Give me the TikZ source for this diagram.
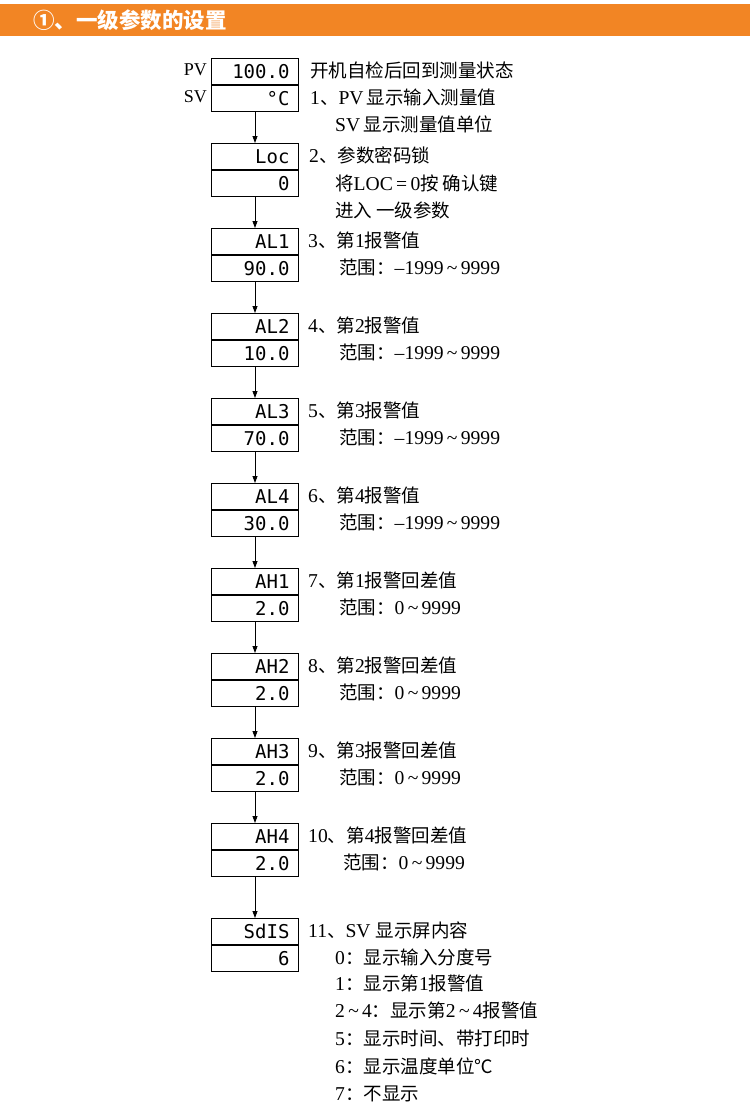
\documentclass[tikz,border=0pt]{standalone}
\usepackage{fontspec}
\setmainfont{Liberation Serif}[Scale=1.06]
\newfontfamily\cjk{Noto Sans CJK SC}
\newfontfamily\segfont{DejaVu Sans Mono}
\usetikzlibrary{arrows.meta}
\definecolor{headorange}{RGB}{242,133,36}
\newcommand\zh[1]{{\cjk #1}}
\newcommand\tildesep{\,\textasciitilde\,}
\newcommand\dispbox[4]{%
  \node[segrow, anchor=north west] (#1u) at (211,#2) {#3};
  \node[segrow, anchor=north] (#1l) at (#1u.south) {#4};
}
\begin{document}
\begin{tikzpicture}[x=1pt,y=-1pt,
  segrow/.style={draw, line width=1pt, minimum width=87pt, minimum height=26pt,
    text width=69pt, align=right, inner xsep=9pt, inner ysep=0pt,
    text height=14pt, text depth=1pt, font=\segfont\fontsize{19}{19}\selectfont},
  flow/.style={line width=0.8pt, -{Triangle[length=7pt,width=5pt]}},
  desc/.style={anchor=west, inner sep=0pt, font=\fontsize{18.5}{19}\selectfont},
  side/.style={anchor=east, inner sep=0pt, font=\fontsize{17}{17}\selectfont}]
\useasboundingbox (0,0) rectangle (750,1114);
\fill[headorange] (0,4) rectangle (750,36);
\node[anchor=west, inner sep=0pt, text=white, font=\cjk\bfseries\fontsize{21.5}{21.5}\selectfont] (title) at (33,20) {①、一级参数的设置};

\dispbox{b1}{58}{100.0}{°C}
\dispbox{b2}{143}{Loc}{0}
\dispbox{b3}{228}{AL1}{90.0}
\dispbox{b4}{313}{AL2}{10.0}
\dispbox{b5}{398}{AL3}{70.0}
\dispbox{b6}{483}{AL4}{30.0}
\dispbox{b7}{568}{AH1}{2.0}
\dispbox{b8}{653}{AH2}{2.0}
\dispbox{b9}{738}{AH3}{2.0}
\dispbox{b10}{823}{AH4}{2.0}
\dispbox{b11}{918}{SdIS}{6}

\draw[flow] (b1l.south) -- (b2u.north);
\draw[flow] (b2l.south) -- (b3u.north);
\draw[flow] (b3l.south) -- (b4u.north);
\draw[flow] (b4l.south) -- (b5u.north);
\draw[flow] (b5l.south) -- (b6u.north);
\draw[flow] (b6l.south) -- (b7u.north);
\draw[flow] (b7l.south) -- (b8u.north);
\draw[flow] (b8l.south) -- (b9u.north);
\draw[flow] (b9l.south) -- (b10u.north);
\draw[flow] (b10l.south) -- (b11u.north);

\node[side] (pv) at (207,70) {PV};
\node[side] (sv) at (207,97) {SV};

\node[desc] (t1a) at (310,70) {\zh{开机自检后回到测量状态}};
\node[desc] (t1b) at (310,97) {1\zh{、}PV\,\zh{显示输入测量值}};
\node[desc] (t1c) at (335,124) {SV\,\zh{显示测量值单位}};

\node[desc] (t2a) at (309,155) {2\zh{、参数密码锁}};
\node[desc] (t2b) at (335,183) {\zh{将}LOC\,=\,0\zh{按 确认键}};
\node[desc] (t2c) at (335,210) {\zh{进入 一级参数}};

\node[desc] (t3a) at (308,240) {3\zh{、第}1\zh{报警值}};
\node[desc] (t3b) at (339,267) {\zh{范围：}–1999\tildesep 9999};
\node[desc] (t4a) at (308,325) {4\zh{、第}2\zh{报警值}};
\node[desc] (t4b) at (339,352) {\zh{范围：}–1999\tildesep 9999};
\node[desc] (t5a) at (308,410) {5\zh{、第}3\zh{报警值}};
\node[desc] (t5b) at (339,437) {\zh{范围：}–1999\tildesep 9999};
\node[desc] (t6a) at (308,495) {6\zh{、第}4\zh{报警值}};
\node[desc] (t6b) at (339,522) {\zh{范围：}–1999\tildesep 9999};

\node[desc] (t7a) at (308,580) {7\zh{、第}1\zh{报警回差值}};
\node[desc] (t7b) at (339,607) {\zh{范围：}0\tildesep 9999};
\node[desc] (t8a) at (308,665) {8\zh{、第}2\zh{报警回差值}};
\node[desc] (t8b) at (339,692) {\zh{范围：}0\tildesep 9999};
\node[desc] (t9a) at (308,750) {9\zh{、第}3\zh{报警回差值}};
\node[desc] (t9b) at (339,777) {\zh{范围：}0\tildesep 9999};
\node[desc] (t10a) at (308,835) {10\zh{、第}4\zh{报警回差值}};
\node[desc] (t10b) at (343,862) {\zh{范围：}0\tildesep 9999};

\node[desc] (t11a) at (308,930) {11\zh{、}SV\ \zh{显示屏内容}};
\node[desc] (t11b) at (335,957) {0\zh{：显示输入分度号}};
\node[desc] (t11c) at (335,983) {1\zh{：显示第}1\zh{报警值}};
\node[desc] (t11d) at (335,1010) {2\tildesep 4\zh{：显示第}2\tildesep 4\zh{报警值}};
\node[desc] (t11e) at (335,1038) {5\zh{：显示时间、带打印时}};
\node[desc] (t11f) at (335,1066) {6\zh{：显示温度单位℃}};
\node[desc] (t11g) at (335,1094) {7\zh{：不显示}};
\end{tikzpicture}
\end{document}
